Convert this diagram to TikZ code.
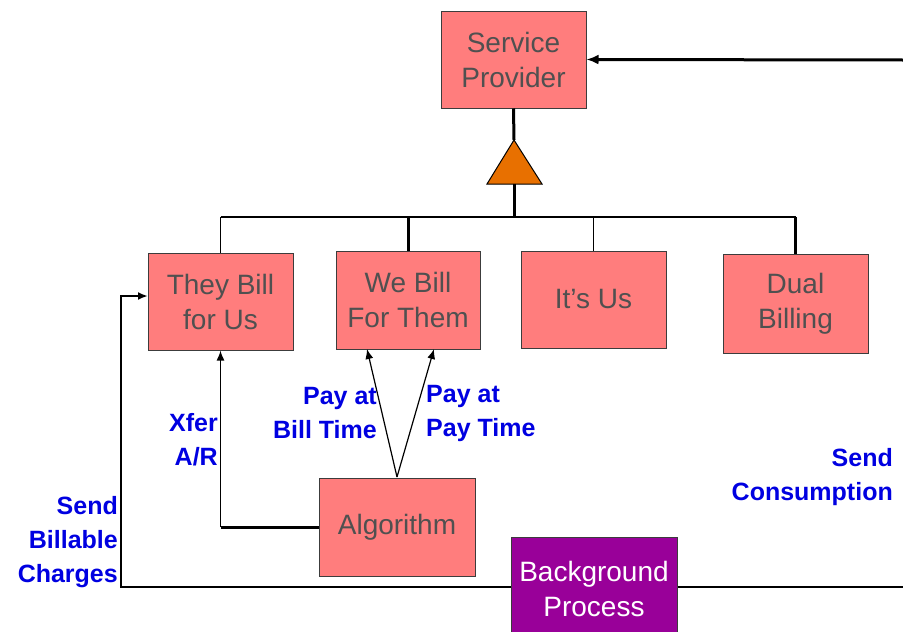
\documentclass[tikz,border=0pt]{standalone}
\usepackage{fontspec}
\setmainfont{Liberation Sans}
\usetikzlibrary{arrows.meta}
\definecolor{boxfill}{RGB}{255,125,125}
\definecolor{boxline}{RGB}{60,60,60}
\definecolor{boxtext}{RGB}{80,80,80}
\definecolor{procfill}{RGB}{153,0,153}
\definecolor{tri}{RGB}{232,112,0}
\definecolor{lbl}{RGB}{0,0,225}
\tikzset{
  ent/.style={draw=boxline, fill=boxfill, line width=1pt, text=boxtext,
    font=\fontsize{28}{35}\selectfont, align=center, inner sep=0pt,
    minimum width=145pt, minimum height=97pt},
  proc/.style={ent, fill=procfill, text=white},
  lab/.style={text=lbl, font=\fontsize{25}{34}\selectfont\bfseries, inner sep=0pt},
  thinline/.style={line width=1.5pt, draw=black},
  thickline/.style={line width=3pt, draw=black},
  midline/.style={line width=2pt, draw=black},
  tip/.style={-{Latex[length=10pt,width=8pt]}}
}
\begin{document}
\begin{tikzpicture}[x=1pt,y=-1pt]
\clip (0,0) rectangle (903,632);
\fill[white] (0,0) rectangle (903,632);

% boxes
\node[ent] (sp) at (513.5,59.5) {Service\\Provider};
\node[ent] (tb) at (220.5,301.5) {They Bill\\for Us};
\node[ent, minimum width=144pt, minimum height=98pt] (wb) at (408,300) {We Bill\\For Them};
\node[ent] (iu) at (593.5,299.5) {It's Us};
\node[ent, minimum height=99pt] (db) at (795.5,303.5) {Dual\\Billing};
\node[ent, minimum width=156pt, minimum height=98pt] (alg) at (397,527) {Algorithm};
\node[proc, minimum width=166pt, minimum height=103pt] (bp) at (594,588.5) {Background\\Process};

% triangle
\coordinate (triApex) at (514,140);
\coordinate (triBase) at (514,184);
\filldraw[fill=tri, draw=black, line width=1pt] (487,184) -- (triApex) -- (542,184) -- cycle;

% hierarchy
\coordinate (busL) at (220.5,217);
\coordinate (busR) at (795.5,217);
\coordinate (busM) at (514,217);
\draw[thickline] (sp.south) -- (triApex);
\draw[thickline] (triBase) -- (busM);
\draw[thinline] (busL) -- (busR);
\draw[thinline] (tb.north) -- (tb.north |- busL);
\draw[thickline] (wb.north) -- (wb.north |- busL);
\draw[thinline] (iu.north) -- (iu.north |- busL);
\draw[thickline] (db.north) -- (db.north |- busL);

% top arrow from right edge
\coordinate (rightTop) at (903,60);
\draw[thickline, -{Latex[length=12pt,width=10pt]}] (rightTop) -- (sp.east);

% Xfer A/R
\coordinate (xc) at (tb.south |- alg.west);
\draw[thickline] (alg.west) -- (xc);
\draw[thinline, tip] (xc) -- (tb.south);

% pay arrows
\coordinate (algTop) at (397,477);
\coordinate (wbL) at (367,349);
\coordinate (wbR) at (434,349);
\draw[line width=1.2pt, tip] (algTop) -- (wbL);
\draw[line width=1.2pt, tip] (algTop) -- (wbR);

% bottom line
\coordinate (bl) at (121,587);
\coordinate (tbIn) at (148,296);
\coordinate (br) at (903,587);
\draw[midline, tip] (bp.west |- bl) -- (bl) -- (bl |- tbIn) -- (tbIn);
\draw[midline] (bp.east |- br) -- (br);

% labels
\node[lab, anchor=east, align=right] (lxfer) at (218,440) {Xfer\\A/R};
\node[lab, anchor=east, align=right] (lpb) at (377,413) {Pay at\\Bill Time};
\node[lab, anchor=west, align=left] (lpp) at (426,413) {Pay at\\Pay Time};
\node[lab, anchor=east, align=right] (lsc) at (893,477) {Send\\Consumption};
\node[lab, anchor=east, align=right] (lsb) at (118,542) {Send\\Billable\\Charges};
\end{tikzpicture}
\end{document}
